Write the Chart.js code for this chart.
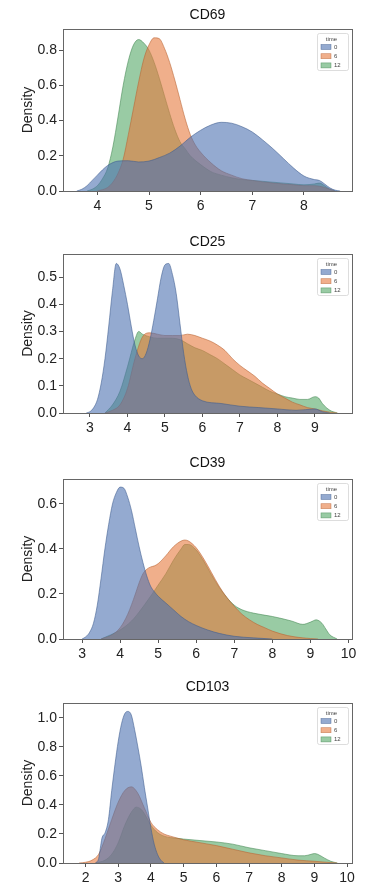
<!DOCTYPE html>
<html>
<head>
<meta charset="utf-8">
<script src="https://cdn.jsdelivr.net/npm/chart.js@4.4.1/dist/chart.umd.min.js"></script>
<style>
  html, body { margin: 0; padding: 0; background: #fff; }
  body { width: 369px; height: 888px; position: relative; overflow: hidden; }
  canvas { position: absolute; left: 0; }
</style>
</head>
<body>
<canvas id="cd69" width="369" height="220" style="top:0px"></canvas>
<canvas id="cd25" width="369" height="220" style="top:220px"></canvas>
<canvas id="cd39" width="369" height="220" style="top:440px"></canvas>
<canvas id="cd103" width="369" height="228" style="top:660px"></canvas>
<script>
// Hue levels (time point) shared by every panel
const timeLabels = ['0', '6', '12'];

// Kernel density curves, [value, density] pairs per time point
const cd69_t0 = [[3.6,0],[3.7,0.01],[3.8,0.03],[3.9,0.06],[4.0,0.09],[4.1,0.12],[4.2,0.145],[4.4,0.17],[4.6,0.172],[4.8,0.165],[5.0,0.17],[5.2,0.19],[5.4,0.215],[5.6,0.255],[5.8,0.305],[6.0,0.345],[6.2,0.375],[6.4,0.39],[6.6,0.385],[6.8,0.365],[7.0,0.335],[7.2,0.29],[7.4,0.24],[7.6,0.185],[7.8,0.13],[8.0,0.085],[8.2,0.065],[8.3,0.06],[8.4,0.04],[8.5,0.018],[8.6,0.005],[8.7,0]];
const cd69_t6 = [[4.0,0],[4.2,0.02],[4.3,0.05],[4.4,0.1],[4.5,0.18],[4.6,0.32],[4.7,0.47],[4.8,0.62],[4.9,0.75],[5.0,0.83],[5.1,0.87],[5.2,0.865],[5.3,0.81],[5.4,0.73],[5.5,0.63],[5.6,0.52],[5.7,0.41],[5.8,0.32],[5.9,0.26],[6.0,0.22],[6.2,0.16],[6.4,0.115],[6.6,0.09],[6.8,0.07],[7.0,0.06],[7.4,0.045],[7.8,0.035],[8.0,0.03],[8.2,0.03],[8.4,0.02],[8.6,0]];
const cd69_t12 = [[3.8,0],[3.9,0.01],[4.0,0.03],[4.1,0.07],[4.2,0.13],[4.3,0.25],[4.4,0.42],[4.5,0.6],[4.6,0.74],[4.7,0.83],[4.8,0.86],[4.9,0.84],[5.0,0.8],[5.1,0.73],[5.2,0.64],[5.3,0.54],[5.4,0.44],[5.5,0.35],[5.6,0.28],[5.7,0.24],[5.8,0.2],[6.0,0.15],[6.2,0.11],[6.4,0.09],[6.6,0.075],[6.8,0.065],[7.0,0.06],[7.4,0.05],[7.8,0.04],[8.0,0.035],[8.2,0.04],[8.3,0.045],[8.4,0.03],[8.5,0.01],[8.6,0]];

const cd25_t0 = [[2.9,0],[3.0,0.005],[3.1,0.02],[3.2,0.05],[3.3,0.11],[3.4,0.2],[3.5,0.32],[3.6,0.45],[3.7,0.55],[3.8,0.53],[3.9,0.47],[4.0,0.4],[4.1,0.32],[4.2,0.25],[4.3,0.21],[4.4,0.2],[4.5,0.22],[4.6,0.27],[4.7,0.34],[4.8,0.42],[4.9,0.5],[5.0,0.545],[5.1,0.55],[5.2,0.51],[5.3,0.44],[5.4,0.33],[5.5,0.22],[5.6,0.14],[5.7,0.09],[5.8,0.065],[6.0,0.045],[6.5,0.035],[7.0,0.025],[7.5,0.02],[8.0,0.015],[8.5,0.01],[9.0,0.015],[9.2,0.005],[9.4,0]];
const cd25_t6 = [[3.4,0],[3.6,0.01],[3.8,0.03],[4.0,0.09],[4.2,0.2],[4.4,0.28],[4.6,0.295],[4.8,0.29],[5.0,0.285],[5.2,0.285],[5.4,0.285],[5.6,0.29],[5.8,0.285],[6.0,0.275],[6.2,0.265],[6.4,0.25],[6.6,0.23],[6.8,0.2],[7.0,0.175],[7.2,0.155],[7.4,0.135],[7.6,0.11],[7.8,0.09],[8.0,0.07],[8.2,0.055],[8.4,0.04],[8.6,0.03],[8.8,0.02],[9.0,0.015],[9.2,0.008],[9.4,0.003],[9.6,0]];
const cd25_t12 = [[3.4,0],[3.6,0.03],[3.8,0.08],[4.0,0.17],[4.2,0.27],[4.3,0.3],[4.4,0.29],[4.6,0.28],[4.8,0.275],[5.0,0.275],[5.2,0.275],[5.4,0.27],[5.6,0.255],[5.8,0.24],[6.0,0.23],[6.2,0.215],[6.4,0.2],[6.6,0.18],[6.8,0.16],[7.0,0.14],[7.2,0.125],[7.4,0.11],[7.6,0.095],[7.8,0.08],[8.0,0.07],[8.2,0.06],[8.4,0.055],[8.6,0.05],[8.8,0.05],[9.0,0.06],[9.1,0.055],[9.2,0.035],[9.4,0.01],[9.6,0]];

const cd39_t0 = [[3.0,0],[3.1,0.01],[3.2,0.03],[3.3,0.07],[3.4,0.15],[3.5,0.27],[3.6,0.4],[3.7,0.51],[3.8,0.6],[3.9,0.65],[4.0,0.675],[4.1,0.67],[4.2,0.63],[4.3,0.57],[4.4,0.49],[4.5,0.41],[4.6,0.34],[4.7,0.28],[4.8,0.235],[4.9,0.21],[5.0,0.19],[5.2,0.16],[5.4,0.13],[5.6,0.1],[5.8,0.077],[6.0,0.06],[6.3,0.04],[6.6,0.025],[7.0,0.012],[7.5,0.005],[8.0,0]];
const cd39_t6 = [[3.5,0],[3.8,0.02],[4.0,0.05],[4.2,0.11],[4.4,0.2],[4.5,0.25],[4.6,0.29],[4.7,0.31],[4.8,0.32],[4.9,0.325],[5.0,0.335],[5.2,0.37],[5.4,0.41],[5.6,0.435],[5.7,0.44],[5.8,0.435],[6.0,0.405],[6.2,0.355],[6.4,0.295],[6.6,0.235],[6.8,0.185],[7.0,0.145],[7.2,0.11],[7.4,0.085],[7.6,0.065],[7.8,0.05],[8.0,0.035],[8.4,0.015],[8.8,0.005],[9.2,0]];
const cd39_t12 = [[3.5,0],[4.0,0.04],[4.3,0.08],[4.5,0.12],[4.8,0.19],[5.0,0.24],[5.2,0.29],[5.4,0.35],[5.6,0.4],[5.7,0.42],[5.8,0.42],[6.0,0.395],[6.2,0.345],[6.4,0.285],[6.6,0.23],[6.8,0.185],[7.0,0.15],[7.2,0.13],[7.5,0.115],[8.0,0.1],[8.5,0.08],[8.8,0.065],[9.0,0.075],[9.15,0.085],[9.3,0.07],[9.4,0.045],[9.5,0.02],[9.7,0]];

const cd103_t0 = [[2.3,0],[2.4,0.03],[2.45,0.1],[2.5,0.17],[2.6,0.21],[2.7,0.3],[2.8,0.5],[2.9,0.68],[3.0,0.84],[3.1,0.96],[3.2,1.03],[3.3,1.045],[3.4,1.02],[3.5,0.92],[3.6,0.8],[3.7,0.67],[3.8,0.52],[3.9,0.38],[4.0,0.24],[4.1,0.13],[4.2,0.06],[4.3,0.02],[4.4,0]];
const cd103_t6 = [[1.8,0],[2.0,0.005],[2.2,0.02],[2.4,0.06],[2.6,0.17],[2.8,0.3],[3.0,0.42],[3.2,0.5],[3.4,0.525],[3.6,0.48],[3.8,0.38],[4.0,0.28],[4.2,0.23],[4.4,0.2],[4.6,0.185],[4.8,0.172],[5.0,0.16],[5.5,0.14],[6.0,0.12],[6.5,0.095],[7.0,0.07],[7.5,0.05],[8.0,0.035],[8.5,0.02],[9.0,0.012],[9.5,0.003],[9.7,0]];
const cd103_t12 = [[2.3,0],[2.6,0.02],[2.8,0.06],[3.0,0.14],[3.2,0.26],[3.4,0.35],[3.55,0.385],[3.7,0.37],[3.8,0.34],[3.9,0.3],[4.0,0.26],[4.2,0.21],[4.4,0.185],[4.6,0.175],[4.8,0.17],[5.0,0.165],[5.5,0.155],[6.0,0.145],[6.5,0.13],[7.0,0.105],[7.5,0.085],[8.0,0.065],[8.5,0.05],[8.7,0.05],[8.9,0.06],[9.0,0.065],[9.1,0.06],[9.3,0.035],[9.5,0.012],[9.7,0]];

// Tick labels
const cd69XTicks = [4, 5, 6, 7, 8];
const cd69YTicks = [0, 0.2, 0.4, 0.6, 0.8];
const cd25XTicks = [3, 4, 5, 6, 7, 8, 9];
const cd25YTicks = [0, 0.1, 0.2, 0.3, 0.4, 0.5];
const cd39XTicks = [3, 4, 5, 6, 7, 8, 9, 10];
const cd39YTicks = [0, 0.2, 0.4, 0.6];
const cd103XTicks = [2, 3, 4, 5, 6, 7, 8, 9, 10];
const cd103YTicks = [0, 0.2, 0.4, 0.6, 0.8, 1.0];

// Panel layout: axis limits and where the plot box sits in each canvas
const panels = [
  { id: 'cd69',  title: 'CD69',  series: [cd69_t0, cd69_t6, cd69_t12],   xTicks: cd69XTicks,  yTicks: cd69YTicks,  xMin: 3.335, xMax: 8.93,  yMax: 0.92,  h: 220, top: 29, bottom: 191, titleY: 15 },
  { id: 'cd25',  title: 'CD25',  series: [cd25_t0, cd25_t6, cd25_t12],   xTicks: cd25XTicks,  yTicks: cd25YTicks,  xMin: 2.28,  xMax: 9.99,  yMax: 0.585, h: 220, top: 34, bottom: 193, titleY: 22 },
  { id: 'cd39',  title: 'CD39',  series: [cd39_t0, cd39_t6, cd39_t12],   xTicks: cd39XTicks,  yTicks: cd39YTicks,  xMin: 2.5,   xMax: 10.09, yMax: 0.711, h: 220, top: 39, bottom: 199, titleY: 23 },
  { id: 'cd103', title: 'CD103', series: [cd103_t0, cd103_t6, cd103_t12], xTicks: cd103XTicks, yTicks: cd103YTicks, xMin: 1.31,  xMax: 10.15, yMax: 1.103, h: 228, top: 43, bottom: 203, titleY: 27 }
];

const FONT = "'Liberation Sans', Arial, Helvetica, sans-serif";
const palette = [[76, 114, 176], [230, 122, 62], [85, 168, 104]];
const fillAlpha = 0.6;

// Box around the plotting area (all four spines)
const framePlugin = {
  id: 'frame',
  afterDatasetsDraw(chart) {
    const a = chart.chartArea, ctx = chart.ctx;
    ctx.save();
    ctx.strokeStyle = '#666';
    ctx.lineWidth = 1;
    ctx.strokeRect(Math.round(a.left) + 0.5, Math.round(a.top) + 0.5,
                   Math.round(a.right - a.left), Math.round(a.bottom - a.top));
    ctx.restore();
  }
};

// Small "time" legend box in the upper right corner
const legendBoxPlugin = {
  id: 'legendBox',
  afterDraw(chart) {
    const a = chart.chartArea, ctx = chart.ctx;
    const bw = 31, bh = 37;
    const bx = a.right - 35, by = a.top + 4;
    ctx.save();
    ctx.fillStyle = 'rgba(255,255,255,0.85)';
    ctx.strokeStyle = '#d4d4d4';
    ctx.lineWidth = 0.8;
    ctx.beginPath();
    ctx.roundRect(bx + 0.5, by + 0.5, bw, bh, 2);
    ctx.fill();
    ctx.stroke();
    ctx.fillStyle = '#444';
    ctx.font = '6px ' + FONT;
    ctx.textBaseline = 'middle';
    ctx.textAlign = 'center';
    ctx.fillText('time', bx + bw / 2 - 1, by + 6);
    chart.data.datasets.forEach((ds, i) => {
      const ry = by + 14 + i * 9.2;
      ctx.fillStyle = ds.backgroundColor;
      ctx.fillRect(bx + 4, ry - 2.5, 10, 5);
      ctx.strokeStyle = ds.borderColor;
      ctx.lineWidth = 0.6;
      ctx.strokeRect(bx + 4, ry - 2.5, 10, 5);
      ctx.fillStyle = '#444';
      ctx.textAlign = 'left';
      ctx.fillText(ds.label, bx + 17, ry);
    });
    ctx.restore();
  }
};

panels.forEach(p => {
  const titleLine = 14 * 1.2;
  const padTop = p.titleY - titleLine / 2;
  const padBottom = p.top - padTop - titleLine;
  new Chart(document.getElementById(p.id), {
    type: 'line',
    data: {
      datasets: p.series.map((s, i) => ({
        label: timeLabels[i],
        data: s.map(([x, y]) => ({ x, y })),
        fill: 'origin',
        backgroundColor: `rgba(${palette[i].join(',')},${fillAlpha})`,
        borderColor: `rgba(${palette[i].map(c => Math.round(c * 0.8)).join(',')},0.7)`,
        borderWidth: 0.8,
        pointRadius: 0,
        cubicInterpolationMode: 'monotone'
      }))
    },
    options: {
      responsive: false,
      animation: false,
      events: [],
      layout: { padding: { left: 0, right: 17, top: 0, bottom: 0 } },
      plugins: {
        legend: { display: false },
        tooltip: { enabled: false },
        title: {
          display: true,
          text: p.title,
          fullSize: false,
          color: '#111',
          font: { family: FONT, size: 14, weight: 'normal', lineHeight: 1.2 },
          padding: { top: padTop, bottom: padBottom }
        }
      },
      scales: {
        x: {
          type: 'linear',
          min: p.xMin,
          max: p.xMax,
          afterBuildTicks: s => { s.ticks = p.xTicks.map(v => ({ value: v })); },
          afterFit: s => { s.height = p.h - p.bottom; },
          ticks: {
            autoSkip: false, maxRotation: 0, padding: 3,
            color: '#222', font: { family: FONT, size: 14 },
            callback: v => String(v)
          },
          grid: { display: true, drawOnChartArea: false, drawTicks: true, tickLength: 4, color: '#555' },
          border: { display: false }
        },
        y: {
          min: 0,
          max: p.yMax,
          afterBuildTicks: s => { s.ticks = p.yTicks.map(v => ({ value: v })); },
          afterFit: s => { s.width = 63; },
          ticks: {
            padding: 2,
            color: '#222', font: { family: FONT, size: 14 },
            callback: v => Number(v).toFixed(1)
          },
          grid: { display: true, drawOnChartArea: false, drawTicks: true, tickLength: 4, color: '#555' },
          border: { display: false },
          title: {
            display: true,
            text: 'Density',
            color: '#222',
            font: { family: FONT, size: 14, lineHeight: 1.2 },
            padding: { top: 20, bottom: 0 }
          }
        }
      }
    },
    plugins: [framePlugin, legendBoxPlugin]
  });
});
</script>
</body>
</html>
